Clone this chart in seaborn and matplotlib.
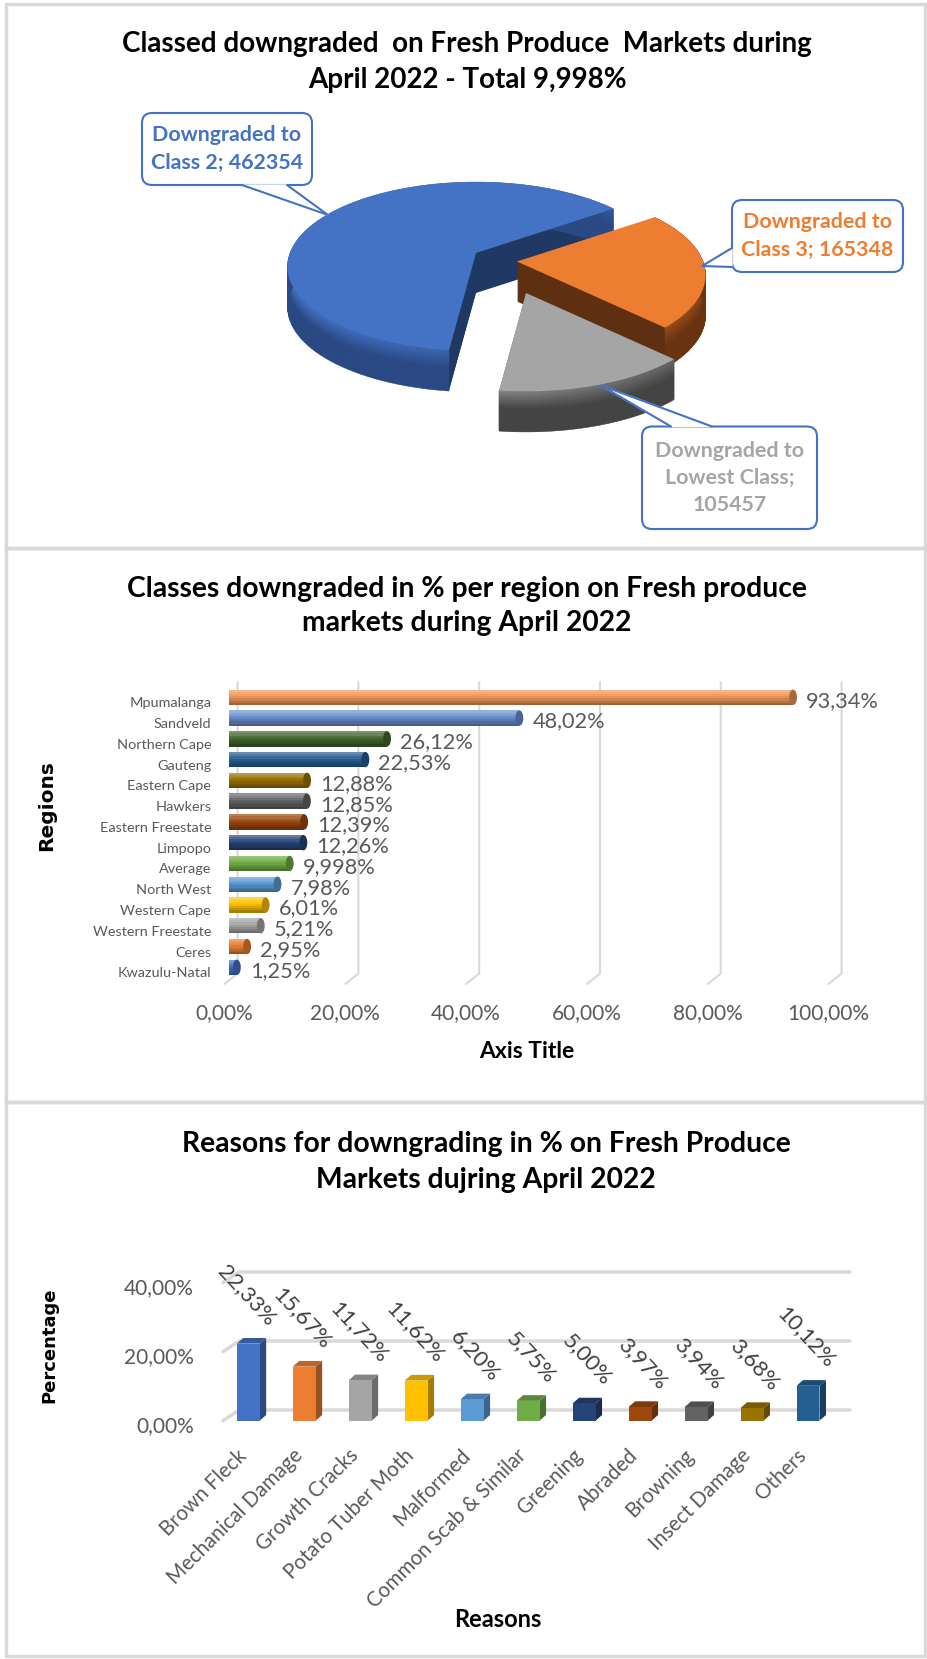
#classes downgraded on fresh produce markets - three panels on one page
import numpy as np
import seaborn as sns
import matplotlib.pyplot as plt
from matplotlib.collections import PolyCollection
from matplotlib.colors import to_rgb
from matplotlib.patches import Ellipse, FancyBboxPatch, Rectangle
from matplotlib.transforms import ScaledTranslation, Transform

W, H = 927, 1659

pie_names = ['Downgraded to\nClass 2; 462354', 'Downgraded to\nClass 3; 165348', 'Downgraded to\nLowest Class;\n105457']
pie_values = [462354, 165348, 105457]
pie_top = ['#4472C4', '#ED7D31', '#A5A5A5']
pie_rim = ['#2B4A85', '#6B3410', '#454545']
pie_cut = ['#203864', '#5F2F11', '#404040']

regions = ['Mpumalanga', 'Sandveld', 'Northern Cape', 'Gauteng', 'Eastern Cape', 'Hawkers', 'Eastern Freestate',
           'Limpopo', 'Average', 'North West', 'Western Cape', 'Western Freestate', 'Ceres', 'Kwazulu-Natal']
region_values = [93.34, 48.02, 26.12, 22.53, 12.88, 12.85, 12.39, 12.26, 9.998, 7.98, 6.01, 5.21, 2.95, 1.25]
region_labels = ['93,34%', '48,02%', '26,12%', '22,53%', '12,88%', '12,85%', '12,39%', '12,26%', '9,998%', '7,98%',
                 '6,01%', '5,21%', '2,95%', '1,25%']
region_colors = ['#F1975A', '#698ED0', '#43682B', '#255E91', '#997300', '#636363', '#9E480E', '#264478', '#70AD47',
                 '#5B9BD5', '#FFC000', '#A5A5A5', '#ED7D31', '#4472C4']
region_ticks = [0, 20, 40, 60, 80, 100]
region_ticklabels = ['0,00%', '20,00%', '40,00%', '60,00%', '80,00%', '100,00%']

reasons = ['Brown Fleck', 'Mechanical Damage', 'Growth Cracks', 'Potato Tuber Moth', 'Malformed',
           'Common Scab & Similar', 'Greening', 'Abraded', 'Browning', 'Insect Damage', 'Others']
reason_values = [22.33, 15.67, 11.72, 11.62, 6.20, 5.75, 5.00, 3.97, 3.94, 3.68, 10.12]
reason_labels = ['22,33%', '15,67%', '11,72%', '11,62%', '6,20%', '5,75%', '5,00%', '3,97%', '3,94%', '3,68%', '10,12%']
reason_colors = ['#4472C4', '#ED7D31', '#A5A5A5', '#FFC000', '#5B9BD5', '#70AD47', '#264478', '#9E480E', '#636363',
                 '#997300', '#255E91']
reason_ticks = [0, 20, 40]
reason_ticklabels = ['0,00%', '20,00%', '40,00%']

sns.set_theme(style='white')
plt.rcParams['font.family'] = ['Lato', 'DejaVu Sans']
GREY = '#595959'
GRID = '#D9D9D9'
BOX = '#4472C4'

fig = plt.figure(figsize=(W / 100, H / 100), dpi=100)
pix = fig.add_axes([0, 0, 1, 1], zorder=0)


def axes_at(x0, y0, x1, y1):
    ax = fig.add_axes([x0 / W, 1 - y1 / H, (x1 - x0) / W, (y1 - y0) / H], zorder=1)
    ax.patch.set_alpha(0)
    return ax


def shift(px, py):
    return ScaledTranslation(px / 100, -py / 100, fig.dpi_scale_trans)


def blend(a, b, t):
    a, b = np.array(to_rgb(a)), np.array(to_rgb(b))
    return tuple(a + (b - a) * t)


#tilted view of a unit pie, front of the pie bigger than the back
RX, RY, PERSP, DEPTH = 186, 82.5, 0.162, 40
apex = [(476, 253), (517, 261.5), (526, 293)]


def tilt(xy, cx, cy):
    x, y = xy[:, 0], xy[:, 1]
    s = 1 / (1 + PERSP * y)
    return np.column_stack([cx + RX * x * s, cy - RY * y * s])


class Tilt(Transform):
    input_dims = output_dims = 2
    has_inverse = False

    def __init__(self, cx, cy):
        super().__init__()
        self.cx, self.cy = cx, cy

    def transform_non_affine(self, values):
        return tilt(np.asarray(values), self.cx, self.cy)


def draw_pie(offset, layer):
    wedges, _ = pix.pie(pie_values, startangle=263, counterclock=False, colors=pie_top)
    for i, w in enumerate(wedges):
        w.set_transform(Tilt(apex[i][0], apex[i][1] + offset) + pix.transData)
        w.set_clip_on(False)
        w.set_zorder(i * 3 + layer)
        w.set_linewidth(0)
        if layer == 1:
            w.set_facecolor(pie_cut[i])
    return wedges


for off in range(DEPTH, 0, -1):
    draw_pie(off, 1)
top_wedges = draw_pie(0, 3)

#outer rim of each slice, darker downwards and towards the right
for i, w in enumerate(top_wedges):
    ang = np.radians(np.linspace(w.theta1, w.theta2, 100))
    arc = tilt(np.column_stack([np.cos(ang), np.sin(ang)]), *apex[i])
    polys, cols = [], []
    bands = np.linspace(0, DEPTH, 31)
    for b0, b1 in zip(bands[:-1], bands[1:]):
        t = min(1, b1 / DEPTH * 2.2)
        for k in range(len(arc) - 1):
            p, q = arc[k], arc[k + 1]
            polys.append([p + [0, b0], q + [0, b0], q + [0, b1 + 0.5], p + [0, b1 + 0.5]])
            side = np.clip((p[0] - apex[i][0] + RX) / (2 * RX), 0, 1)
            cols.append(blend(blend(pie_top[i], pie_rim[i], t), pie_rim[i], 0.7 * side))
    pix.add_collection(PolyCollection(polys, facecolors=cols, edgecolors=cols, linewidths=0.3, zorder=i * 3 + 2, clip_on=False))

pix.set_aspect('auto')
pix.set_xlim(0, W)
pix.set_ylim(H, 0)
pix.axis('off')

#callouts round the pie: box, pointer base and tip, text lines
boxes = [(142, 113, 312, 185), (732, 200, 903, 272), (642, 426.5, 817, 529)]
pointers = [[(242, 185), (328, 215), (287, 185)], [(732, 248), (702, 266), (732, 267)], [(671, 426.5), (600, 385), (712, 426.5)]]
for i in range(3):
    x0, y0, x1, y1 = boxes[i]
    pix.add_patch(FancyBboxPatch((x0 + 9, y0 + 9), x1 - x0 - 18, y1 - y0 - 18, boxstyle='round,pad=9,rounding_size=10',
                                 fc='white', ec=BOX, lw=1.5, zorder=15))
    pix.fill(*zip(*pointers[i]), color='white', zorder=16, clip_on=False)
    pix.plot(*zip(*pointers[i]), color=BOX, lw=1.5, zorder=17, solid_joinstyle='miter')
    pix.text((x0 + x1) / 2, (y0 + y1) / 2, pie_names[i], color=pie_top[i], ha='center', va='center', fontsize=15.4,
             fontweight='bold', linespacing=1.45, zorder=18)

#panel borders and chart titles
for y0, y1 in [(4, 548), (548, 1102), (1102, 1656)]:
    pix.add_patch(Rectangle((6, y0), 919, y1 - y0, fc='none', ec=GRID, lw=2.5, zorder=0.5))
pix.text(467, 62, 'Classed downgraded  on Fresh Produce  Markets during\nApril 2022 - Total 9,998%', ha='center', va='center',
         fontsize=20, fontweight='bold', color='black', linespacing=1.5)
pix.text(467, 606, 'Classes downgraded in % per region on Fresh produce\nmarkets during April 2022', ha='center', va='center',
         fontsize=20.3, fontweight='bold', color='black', linespacing=1.4)
pix.text(486, 1162, 'Reasons for downgrading in % on Fresh Produce\nMarkets dujring April 2022', ha='center', va='center',
         fontsize=20.3, fontweight='bold', color='black', linespacing=1.5)

#regions, horizontal bars
ax2 = axes_at(229.3, 686.9, 833.3, 977.7)
for v in region_ticks:
    ax2.plot([v + 1.37, v + 1.37, v - 0.78], [-0.73, 13.3, 13.8], color=GRID, lw=1.5, clip_on=False, zorder=0)
sns.barplot(x=region_values, y=regions, hue=regions, palette=region_colors, legend=False, width=0.74, saturation=1,
            dodge=False, orient='h', linewidth=0, ax=ax2, zorder=2)
ypos = np.arange(len(regions))
strips = [('white', 0.3), ('white', 0.2), ('white', 0.08), ('black', 0.04), ('black', 0.14), ('black', 0.24), ('black', 0.34)]
for k, (c, a) in enumerate(strips):
    ax2.barh(ypos - 0.37 + 0.74 * (k + 0.5) / 7, region_values, height=0.74 / 7, color=c, alpha=a, lw=0, zorder=3)
for i, v in enumerate(region_values):
    ax2.add_patch(Ellipse((v, i), 1.3, 0.74, color=blend(region_colors[i], 'black', 0.3), lw=0, zorder=4))
    ax2.annotate(region_labels[i], (v, i), xytext=(13 * 0.72, -3.5 * 0.72), textcoords='offset points', ha='left', va='center',
                 fontsize=15.7, color=GREY, annotation_clip=False, zorder=5)
ax2.set_xlim(0, 100)
ax2.set_ylim(13.5, -0.5)
ax2.set_xticks(region_ticks, region_ticklabels)
ax2.tick_params(axis='x', length=0, pad=18, labelsize=15, labelcolor=GREY)
ax2.tick_params(axis='y', length=0, pad=13, labelsize=10.4, labelcolor=GREY)
for lab in ax2.get_xticklabels():
    lab.set_transform(lab.get_transform() + shift(-4.7, 0))
for lab in ax2.get_yticklabels():
    lab.set_transform(lab.get_transform() + shift(0, 5))
ax2.set_xlabel('Axis Title', fontsize=16.5, fontweight='bold', color='black')
ax2.xaxis.set_label_coords(527, 1041, transform=pix.transData)
ax2.set_ylabel('Regions', fontsize=14.5, fontweight='bold', color='black', family='DejaVu Sans')
ax2.yaxis.set_label_coords(56, 806, transform=pix.transData)
sns.despine(ax=ax2, left=True, bottom=True)

#reasons, vertical bars with a side and a top face
ax3 = axes_at(220.2, 1282.7, 836, 1420.7)
for v in reason_ticks:
    ax3.plot([10.5 + 0.25, -0.16, -0.45], [v + 3.1, v + 3.1, v], color=GRID, lw=2.5, clip_on=False, zorder=0)
sns.barplot(x=reasons, y=reason_values, hue=reasons, palette=reason_colors, legend=False, width=0.41, saturation=1,
            dodge=False, linewidth=0, ax=ax3, zorder=3)
DX, DY = 0.116, 1.65
for i, v in enumerate(reason_values):
    l, r = i - 0.205, i + 0.205
    ax3.fill([r, r + DX, r + DX, r], [0, DY, v + DY, v], color=blend(reason_colors[i], 'black', 0.35), lw=0, zorder=2, clip_on=False)
    ax3.fill([l, l + DX, r + DX, r], [v, v + DY, v + DY, v], color=blend(reason_colors[i], 'black', 0.2), lw=0, zorder=2, clip_on=False)
    ax3.annotate(reason_labels[i], (i, v), xytext=(24 * 0.72, 21 * 0.72), textcoords='offset points', rotation=-47,
                 rotation_mode='anchor', ha='right', va='center', fontsize=16, color='#404040', annotation_clip=False, zorder=5)
ax3.set_xlim(-0.5, 10.5)
ax3.set_ylim(0, 40)
ax3.set_yticks(reason_ticks, reason_ticklabels)
ax3.tick_params(axis='y', length=0, pad=19, labelsize=15, labelcolor=GREY)
ax3.tick_params(axis='x', length=0, pad=23, labelsize=14.8, labelcolor=GREY)
plt.setp(ax3.get_xticklabels(), rotation=45, ha='right', va='center', rotation_mode='anchor')
for lab in ax3.get_xticklabels():
    lab.set_transform(lab.get_transform() + shift(-5, 0))
for lab in ax3.get_yticklabels():
    lab.set_transform(lab.get_transform() + shift(0, 3))
ax3.set_xlabel('Reasons', fontsize=17, fontweight='bold', color='black')
ax3.xaxis.set_label_coords(498, 1608, transform=pix.transData)
ax3.set_ylabel('Percentage', fontsize=13, fontweight='bold', color='black', family='DejaVu Sans')
ax3.yaxis.set_label_coords(58, 1345, transform=pix.transData)
sns.despine(ax=ax3, left=True, bottom=True)

plt.savefig('out.png', dpi=100)
